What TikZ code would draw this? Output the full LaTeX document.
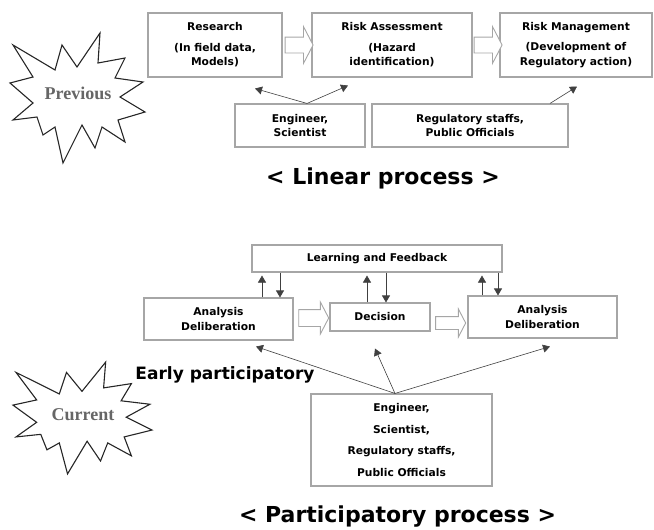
\documentclass[tikz,border=0pt]{standalone}
\usepackage{fontspec}
\setmainfont{DejaVu Sans}
\newfontfamily\starfont{Liberation Serif}
\usetikzlibrary{shapes.geometric,shapes.arrows,arrows.meta,calc}

\begin{document}
\begin{tikzpicture}[
  x=1pt, y=-1pt,
  box/.style     = {draw=gray!70, line width=1.1pt, fill=white, align=center,
                    font=\bfseries\fontsize{10.7}{14.5}\selectfont, inner sep=2pt},
  hollow/.style  = {single arrow, draw=gray!70, line width=0.9pt, fill=white,
                    minimum height=28pt, minimum width=36pt, inner xsep=0pt,
                    inner ysep=7.5pt, single arrow head extend=10.5pt,
                    single arrow tip angle=125},
  arr/.style     = {-{Triangle[length=7pt,width=8pt]}, draw=black!75, line width=0.6pt},
  burstlbl/.style= {font=\starfont\bfseries\fontsize{18}{20}\selectfont, text=black!60},
  caption/.style = {font=\bfseries\fontsize{22}{26}\selectfont},
  burst/.pic     = {\draw[line width=1.1pt, draw=black!85]
      (-65,-53) -- (-23,-28) -- (-16,-53) -- (-1,-31) -- (22,-65) -- (20,-35)
      -- (47,-40) -- (37,-20) -- (65,-16) -- (42,-1) -- (67,14) -- (40,22)
      -- (47,44) -- (24,29) -- (17,50) -- (4,27) -- (-15,65) -- (-23,29)
      -- (-35,37) -- (-41,19) -- (-65,22) -- (-45,5) -- (-68,-15) -- (-45,-21)
      -- cycle;},
]
\useasboundingbox (0,0) rectangle (654,530);

%% ─── linear process ───────────────────────────────────────────────────────
\node[box, minimum width=134, minimum height=64] (res) at (215,45)
  {Research\\[6pt](In field data,\\Models)};
\node[box, minimum width=160, minimum height=64] (ra) at (392,45)
  {Risk Assessment\\[6pt](Hazard\\identification)};
\node[box, minimum width=152, minimum height=64] (rm) at (576,45)
  {Risk Management\\[6pt](Development of\\Regulatory action)};

\node[box, minimum width=130, minimum height=43] (eng) at (300,125.5)
  {Engineer,\\Scientist};
\node[box, minimum width=196, minimum height=43] (reg) at (470,125.5)
  {Regulatory staffs,\\Public Officials};

\node[hollow] (h1) at ($(res.east)!0.5!(ra.west)$) {};
\node[hollow] (h2) at ($(ra.east)!0.5!(rm.west)$) {};

\draw[arr] ([xshift=7]eng.north) -- ([xshift=40,yshift=-11]res.south);
\draw[arr] ([xshift=7]eng.north) -- ([xshift=-44,yshift=-8]ra.south);
\draw[arr] ([xshift=80]reg.north) -- ([xshift=1,yshift=-9]rm.south);

\node[caption] (lin) at (383,178) {< Linear process >};

\pic at (78,98) {burst};
\node[burstlbl] (prev) at (78,93) {Previous};

%% ─── participatory process ────────────────────────────────────────────────
\node[box, minimum width=250, minimum height=27] (lf) at (377,258.5)
  {Learning and Feedback};
\node[box, minimum width=149, minimum height=42] (adl) at (218.5,319)
  {Analysis\\Deliberation};
\node[box, minimum width=100, minimum height=28] (dec) at (380,317)
  {Decision};
\node[box, minimum width=149, minimum height=42] (adr) at (542.5,317)
  {Analysis\\Deliberation};
\node[box, minimum width=181, minimum height=92] (grp) at (401.5,440)
  {Engineer,\\[7pt]Scientist,\\[7pt]Regulatory staffs,\\[7pt]Public Officials};

\node[hollow, minimum height=30, minimum width=31, inner ysep=8pt,
      single arrow head extend=7.5pt] (h3) at ($(adl.east)!0.5!(dec.west)$) {};
\node[hollow, minimum height=30, minimum width=27, inner ysep=6pt,
      single arrow head extend=7.5pt] (h4) at ($(dec.east)!0.5!(adr.west)+(0,6)$) {};

% feedback loop: up to learning box, down to each stage
\foreach \b/\u/\d in {adl/262/280, dec/367/386, adr/482/498} {
  \draw[arr, shorten >=3pt] (\b.north -| \u,0) -- (lf.south -| \u,0);
  \draw[arr] (lf.south -| \d,0) -- (\b.north -| \d,0);
}

\draw[arr] ([xshift=-6.5]grp.north) -- ([xshift=37.5,yshift=-6]adl.south);
\draw[arr] ([xshift=-6.5]grp.north) -- ([xshift=-5,yshift=-17]dec.south);
\draw[arr] ([xshift=-6.5]grp.north) -- ([xshift=7.5,yshift=-8]adr.south);

\node[font=\bfseries\fontsize{17}{20}\selectfont] (early) at (225,375) {Early participatory};
\node[caption] (part) at (397.5,517) {< Participatory process >};

\pic[yscale=0.86, xscale=1.03] at (83,418) {burst};
\node[burstlbl] (curr) at (83,415) {Current};

\end{tikzpicture}
\end{document}
